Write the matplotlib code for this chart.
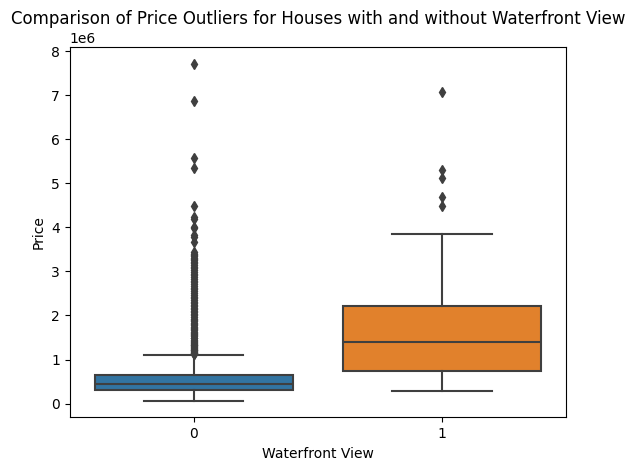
import matplotlib
matplotlib.use("Agg")
import matplotlib.pyplot as plt
import numpy as np

# Box statistics (prices in millions of dollars)
GROUPS = ["0", "1"]
COLORS = ["#3274a1", "#e1812c"]
Q1 = [0.32, 0.75]
MEDIAN = [0.45, 1.39]
Q3 = [0.64, 2.21]
WHISLO = [0.07, 0.28]
WHISHI = [1.11, 3.85]

FLIERS_0 = [1.12, 1.13, 1.15, 1.16, 1.18, 1.19, 1.21, 1.22, 1.24, 1.26, 1.28,
            1.30, 1.32, 1.34, 1.36, 1.38, 1.40, 1.43, 1.45, 1.48, 1.50, 1.53,
            1.55, 1.58, 1.60, 1.63, 1.66, 1.69, 1.72, 1.75, 1.78, 1.81, 1.84,
            1.87, 1.90, 1.93, 1.96, 2.00, 2.03, 2.07, 2.10, 2.14, 2.17, 2.21,
            2.24, 2.28, 2.31, 2.35, 2.39, 2.43, 2.47, 2.51, 2.55, 2.59, 2.63,
            2.67, 2.71, 2.75, 2.79, 2.83, 2.87, 2.91, 2.95, 2.99, 3.03, 3.07,
            3.11, 3.14, 3.18, 3.21, 3.25, 3.28, 3.31, 3.34, 3.37, 3.40, 3.44,
            3.67, 3.78, 3.82, 3.98, 4.00, 4.20, 4.23, 4.49, 5.35, 5.57, 6.87,
            7.70]
FLIERS_1 = [4.48, 4.69, 5.11, 5.30, 7.07]

EDGE = "#3f3f3f"


def main():
    fig, ax = plt.subplots(figsize=(6.34, 4.70), dpi=100)
    fig.subplots_adjust(left=0.110, right=0.893, top=0.899, bottom=0.112)

    fliers = [FLIERS_0, FLIERS_1]
    stats = []
    for i in range(len(GROUPS)):
        stats.append({
            "q1": Q1[i] * 1e6, "med": MEDIAN[i] * 1e6, "q3": Q3[i] * 1e6,
            "whislo": WHISLO[i] * 1e6, "whishi": WHISHI[i] * 1e6,
            "fliers": np.array(fliers[i]) * 1e6,
        })

    line = dict(color=EDGE, linewidth=1.5)
    bp = ax.bxp(stats, positions=range(len(GROUPS)), widths=0.8,
                patch_artist=True,
                boxprops=dict(edgecolor=EDGE, linewidth=1.5),
                medianprops=line, whiskerprops=line, capprops=line,
                flierprops=dict(marker="d", markerfacecolor=EDGE,
                                markeredgecolor=EDGE, markersize=5,
                                linestyle="none"))
    for patch, c in zip(bp["boxes"], COLORS):
        patch.set_facecolor(c)

    ax.set_xlim(-0.5, 1.5)
    ax.set_xticks(range(len(GROUPS)))
    ax.set_xticklabels(GROUPS)
    ax.set_xlabel("Waterfront View")
    ax.set_ylabel("Price")
    ax.set_title("Comparison of Price Outliers for Houses with and without Waterfront View")

    fig.savefig("out.png", dpi=100)


if __name__ == "__main__":
    main()
